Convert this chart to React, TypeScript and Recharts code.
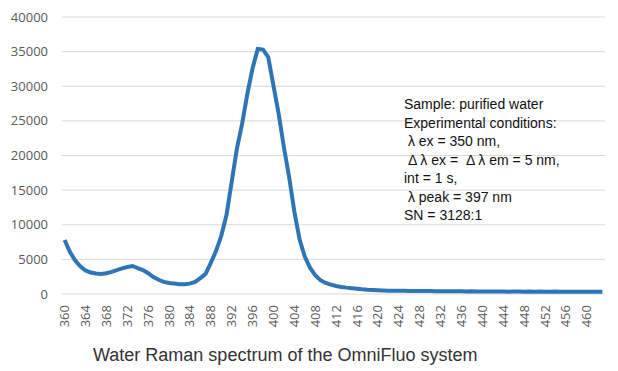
import { LineChart, Line, XAxis, YAxis, CartesianGrid } from "recharts";

// intensity readings, one per nm starting at 360 nm
const intensity = [
  7800, 6100, 4850, 4000, 3400, 3100, 2950, 2900, 3000, 3200,
  3450, 3700, 3900, 4050, 3750, 3450, 3000, 2450, 2050, 1750,
  1600, 1500, 1420, 1400, 1500, 1750, 2300, 2900, 4500, 6200,
  8400, 11400, 16200, 21000, 24600, 28900, 32600, 35400, 35300, 34200,
  30100, 26000, 21200, 16900, 11900, 7900, 5400, 3800, 2700, 2000,
  1600, 1350, 1150, 1020, 920, 840, 770, 680, 610, 570,
  530, 500, 480, 470, 460, 470, 450, 440, 430, 440,
  420, 410, 400, 410, 390, 380, 390, 370, 380, 360,
  370, 350, 360, 350, 360, 340, 350, 360, 340, 350,
  330, 350, 340, 330, 350, 340, 330, 340, 320, 340,
  330, 320, 330, 320,
];
const wavelengths = intensity.map((_, i) => 360 + i);

const xTicks = [
  360, 364, 368, 372, 376, 380, 384, 388, 392, 396, 400, 404, 408, 412,
  416, 420, 424, 428, 432, 436, 440, 444, 448, 452, 456, 460,
];
const yTicks = [0, 5000, 10000, 15000, 20000, 25000, 30000, 35000, 40000];

const title = "Water Raman spectrum of the OmniFluo system";
const notes = [
  "Sample: purified water",
  "Experimental conditions:",
  " \u03bb ex = 350 nm,",
  " \u0394 \u03bb ex =  \u0394 \u03bb em = 5 nm,",
  "int = 1 s,",
  " \u03bb peak = 397 nm",
  "SN = 3128:1",
];

const data = wavelengths.map((nm, i) => ({ nm, value: intensity[i] }));

const XTick = (props: any) => {
  const { x, y, payload } = props;
  return (
    <text
      x={x}
      y={y}
      transform={`rotate(-90, ${x}, ${y})`}
      textAnchor="end"
      dy="0.35em"
      fill="#595959"
      fontSize={13}
      fontFamily="'Open Sans', sans-serif"
    >
      {payload.value}
    </text>
  );
};

export default function App() {
  return (
    <div style={{ position: "relative", left: -8, top: -8, width: 618, height: 371, background: "#fff" }}>
      <LineChart width={618} height={371} data={data} margin={{ top: 17, right: 13, bottom: 0, left: 0 }}>
        <CartesianGrid vertical={false} stroke="#d9d9d9" />
        <XAxis
          dataKey="nm"
          type="number"
          domain={[359.5, 463.5]}
          ticks={xTicks}
          interval={0}
          height={77}
          axisLine={false}
          tickLine={false}
          tickSize={0}
          tickMargin={11}
          tick={<XTick />}
        />
        <YAxis
          domain={[0, 40000]}
          ticks={yTicks}
          width={62}
          axisLine={false}
          tickLine={false}
          tickSize={0}
          tickMargin={14}
          tick={{ fill: "#595959", fontSize: 13, fontFamily: "'Open Sans', sans-serif" }}
        />
        <Line
          type="linear"
          dataKey="value"
          stroke="#2e75b6"
          strokeWidth={4}
          dot={false}
          isAnimationActive={false}
        />
      </LineChart>
      <div
        style={{
          position: "absolute",
          left: 404,
          top: 95,
          fontFamily: "'Liberation Sans', Arial, sans-serif",
          fontSize: 14,
          lineHeight: "18.5px",
          color: "#111",
          whiteSpace: "pre",
        }}
      >
        {notes.join("\n")}
      </div>
      <div
        style={{
          position: "absolute",
          left: 93,
          top: 345,
          fontFamily: "'Liberation Sans', sans-serif",
          fontSize: 18,
          color: "#333",
          whiteSpace: "nowrap",
        }}
      >
        {title}
      </div>
    </div>
  );
}
